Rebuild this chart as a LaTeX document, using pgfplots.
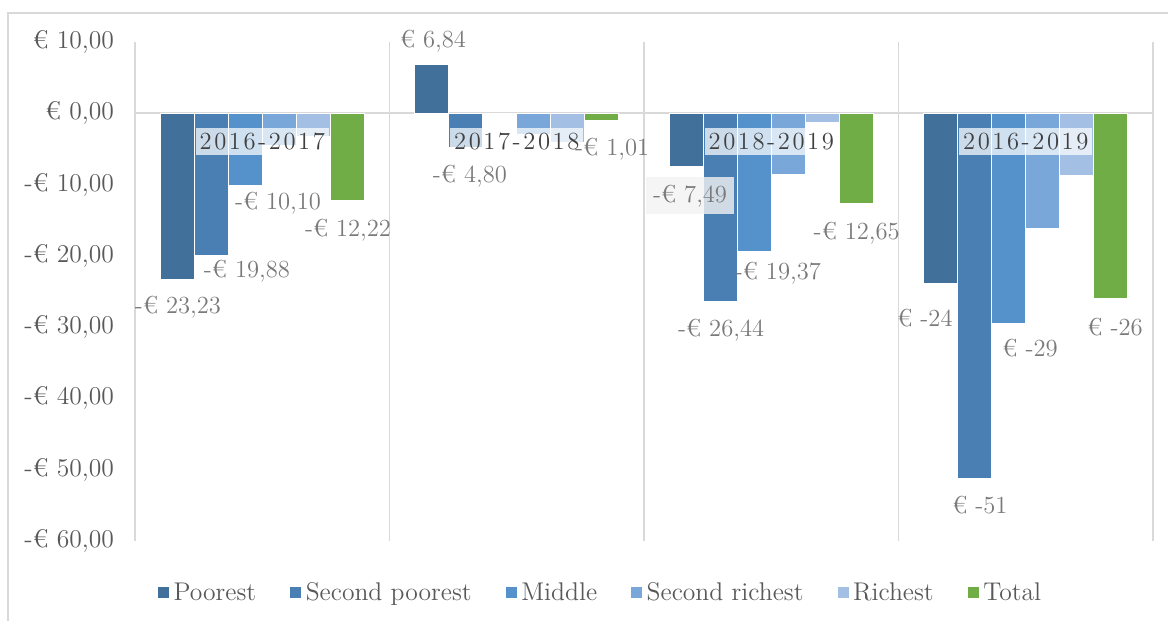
\documentclass[border=0pt]{standalone}
\usepackage{fontspec}
\usepackage{pgfplots}
\pgfplotsset{compat=1.18}
\definecolor{cPoor}{HTML}{41709A}
\definecolor{cSecPoor}{HTML}{4A7FB4}
\definecolor{cMid}{HTML}{5592CB}
\definecolor{cSecRich}{HTML}{7AA7D9}
\definecolor{cRich}{HTML}{A3BFE3}
\definecolor{cTot}{HTML}{70AD47}
\definecolor{gridc}{HTML}{D9D9D9}
\definecolor{tickc}{HTML}{595959}
\definecolor{labc}{HTML}{7A7A7A}
\definecolor{catc}{HTML}{404040}
\newcommand{\myLabFont}{\fontsize{12.3}{14}\selectfont}
\newcommand{\myTickFont}{\fontsize{12.8}{14}\selectfont}
\newcommand{\myCatFont}{\fontsize{12.3}{14}\selectfont}
\newcommand{\spc}[9]{#1\kern1.3pt#2\kern1.3pt#3\kern1.3pt#4\kern1.3pt#5\kern1.3pt#6\kern1.3pt#7\kern1.3pt#8\kern1.3pt#9}
\tikzset{
  catlab/.style={fill=white, fill opacity=0.72, text opacity=1, text=catc, inner xsep=2pt, inner ysep=2.5pt, font=\myCatFont},
  dlab/.style={font=\myLabFont, text=labc, inner sep=1pt},
}
\begin{document}
\begin{tikzpicture}
\useasboundingbox (-67.5pt,-40pt) rectangle (516.5pt,270.5pt);
\draw[gridc, line width=0.8pt] (-63.5pt,-45pt) -- (-63.5pt,264pt) -- (520pt,264pt);
\begin{axis}[
  at={(0pt,0pt)}, anchor=south west,
  width=509pt, height=249.5pt, scale only axis,
  ybar=0pt, bar width=17pt,
  xmin=-0.5, xmax=3.5, ymin=-60, ymax=10,
  axis line style={draw=none},
  major tick length=0pt,
  xtick={-0.5,0.5,1.5,2.5,3.5}, xticklabels={},
  xmajorgrids, grid style={gridc, line width=0.9pt},
  ytick={-60,-50,-40,-30,-20,-10,0,10},
  yticklabels={{-€ 60,00},{-€ 50,00},{-€ 40,00},{-€ 30,00},{-€ 20,00},{-€ 10,00},{€ 0,00},{€ 10,00}},
  yticklabel style={font=\myTickFont, text=tickc, anchor=east, xshift=-7pt},
  extra y ticks={0}, extra y tick labels={},
  extra y tick style={ymajorgrids=true, grid style={gridc, line width=0.9pt}},
  clip=false,
  legend columns=6,
  legend style={at={(axis description cs:0.4578,-0.104)}, anchor=center, draw=none, font=\myTickFont, text=tickc,
    /tikz/every even column/.append style={column sep=14.5pt}},
  legend image code/.code={\fill[#1] (0pt,-2.5pt) rectangle (6pt,3.5pt);},
  every axis plot/.append style={draw=white, line width=0.3pt},
]
\addplot[fill=cPoor] coordinates {(0,-23.23) (1,6.84) (2,-7.49) (3,-23.8)};
\addplot[fill=cSecPoor] coordinates {(0,-19.88) (1,-4.80) (2,-26.44) (3,-51.2)};
\addplot[fill=cMid] coordinates {(0,-10.10) (1,0) (2,-19.37) (3,-29.4)};
\addplot[fill=cSecRich] coordinates {(0,-4.5) (1,-2.9) (2,-8.5) (3,-16.2)};
\addplot[fill=cRich] coordinates {(0,-3.2) (1,-4.0) (2,-1.3) (3,-8.7)};
\addplot[fill=cTot] coordinates {(0,-12.22) (1,-1.01) (2,-12.65) (3,-25.9)};
\legend{Poorest,Second poorest,Middle,Second richest,Richest,Total}
% category labels
\node[catlab] at (axis cs:0,-4.0) {\spc2016-2017};
\node[catlab] at (axis cs:1,-4.0) {\spc2017-2018};
\node[catlab] at (axis cs:2,-4.0) {\spc2018-2019};
\node[catlab] at (axis cs:3,-4.0) {\spc2016-2019};
% data labels
\node[dlab] at (axis cs:-0.331,-27.2) {-€ 23,23};
\node[dlab] at (axis cs:-0.060,-22.1) {-€ 19,88};
\node[dlab] at (axis cs:0.062,-12.6) {-€ 10,10};
\node[dlab] at (axis cs:0.337,-16.4) {-€ 12,22};
\node[dlab] at (axis cs:0.671,10.1) {€ 6,84};
\node[dlab] at (axis cs:0.816,-8.8) {-€ 4,80};
\node[dlab] at (axis cs:1.375,-5.1) {-€ 1,01};
\node[dlab, fill=black!5, fill opacity=0.8, text opacity=1, minimum width=44pt, minimum height=18.5pt] at (axis cs:1.681,-11.6) {-€ 7,49};
\node[dlab] at (axis cs:1.803,-30.4) {-€ 26,44};
\node[dlab] at (axis cs:2.026,-22.4) {-€ 19,37};
\node[dlab] at (axis cs:2.336,-16.8) {-€ 12,65};
\node[dlab] at (axis cs:2.604,-28.7) {€ -24};
\node[dlab] at (axis cs:2.82,-54.9) {€ -51};
\node[dlab] at (axis cs:3.017,-32.9) {€ -29};
\node[dlab] at (axis cs:3.351,-30.0) {€ -26};
\end{axis}
\end{tikzpicture}
\end{document}
